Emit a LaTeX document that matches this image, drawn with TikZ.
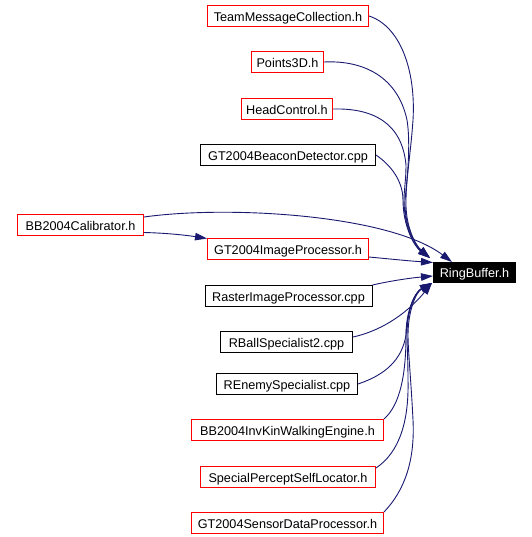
\documentclass[tikz,border=0pt]{standalone}
\usepackage{fontspec}
\setmainfont{Liberation Sans}
\usetikzlibrary{arrows.meta}
\definecolor{edgeblue}{RGB}{25,25,112}
\begin{document}
\begin{tikzpicture}[x=1bp,y=-1bp,
  filebox/.style={rectangle, line width=1bp, inner xsep=0pt, inner ysep=0pt,
    minimum height=21bp, text height=10.6pt, text depth=0pt,
    font=\fontsize{12.7}{15}\selectfont},
  redbox/.style={filebox, draw=red},
  blackbox/.style={filebox, draw=black},
  rootbox/.style={filebox, draw=black, fill=black, text=white},
  dep/.style={draw=edgeblue, line width=0.9bp,
    -{Triangle[length=12bp,width=7.5bp,fill=edgeblue]}}
]
\useasboundingbox (0,0) rectangle (532,537);

\node[redbox,   minimum width=161bp] (tmc)  at (288,16)    {TeamMessageCollection.h};
\node[redbox,   minimum width=72bp]  (p3d)  at (287.5,62)  {Points3D.h};
\node[redbox,   minimum width=91bp]  (hc)   at (287,109)   {HeadControl.h};
\node[blackbox, minimum width=175bp] (gtbd) at (288,155)   {GT2004BeaconDetector.cpp};
\node[redbox,   minimum width=126bp] (bbc)  at (80.5,225)  {BB2004Calibrator.h};
\node[redbox,   minimum width=161bp] (gtip) at (288,249)   {GT2004ImageProcessor.h};
\node[rootbox,  minimum width=82bp, minimum height=20bp] (rb) at (474.5,272.5) {RingBuffer.h};
\node[blackbox, minimum width=167bp] (rip)  at (288.5,296) {RasterImageProcessor.cpp};
\node[blackbox, minimum width=132bp] (rbs)  at (286.5,342) {RBallSpecialist2.cpp};
\node[blackbox, minimum width=141bp] (res)  at (287,384)   {REnemySpecialist.cpp};
\node[redbox,   minimum width=192bp] (bbik) at (287.5,430) {BB2004InvKinWalkingEngine.h};
\node[redbox,   minimum width=175bp] (spsl) at (288,477)   {SpecialPerceptSelfLocator.h};
\node[redbox,   minimum width=192bp] (gtsd) at (287.5,523) {GT2004SensorDataProcessor.h};

\coordinate (up) at ([xshift=-3bp,yshift=4bp]rb.north west);
\coordinate (lo) at ([xshift=-1bp]rb.south west);

% upper bundle
\draw[dep] (tmc.east) .. controls (400,26) and (416,70) .. (413,120)
  .. controls (411,150) and (406,180) .. (406,200)
  .. controls (405,225) and (415,245) .. (up);
\draw[dep] (p3d.east) .. controls (365,60) and (398,78) .. (407,120)
  .. controls (411,145) and (407,180) .. (405,200)
  .. controls (404,225) and (415,245) .. (up);
\draw[dep] (hc.east) .. controls (372,108) and (402,122) .. (406,165)
  .. controls (406,180) and (404,190) .. (404,200)
  .. controls (404,226) and (414,246) .. (up);
\draw[dep] (gtbd.east) .. controls (395,168) and (403,185) .. (403,200)
  .. controls (403,226) and (414,246) .. (up);

% BB2004Calibrator
\draw[dep] ([yshift=8bp]bbc.east) .. controls (230,205) and (390,215) .. ([xshift=19bp]rb.north west);
\draw[dep] ([yshift=-7.5bp]bbc.east) .. controls (165,233) and (185,235) .. ([yshift=-0.5bp]gtip.north west);

% middle
\draw[dep] ([yshift=-8bp]gtip.east) .. controls (390,259) and (410,261) .. ([yshift=-0.5bp]rb.north west);
\draw[dep] (rip.north east) .. controls (390,281) and (410,278) .. ([yshift=-3.5bp]rb.west);

% lower bundle
\draw[dep] ([yshift=5bp]rbs.east) .. controls (385,330) and (410,310) .. (lo);
\draw[dep] (res.east) .. controls (385,375) and (402,360) .. (406,335)
  .. controls (407,310) and (415,292) .. (lo);
\draw[dep] (bbik.north east) .. controls (400,405) and (406,375) .. (406,335)
  .. controls (406,312) and (414,293) .. (lo);
\draw[dep] ([yshift=-2bp]spsl.north east) .. controls (400,452) and (409,420) .. (408,380)
  .. controls (408,360) and (407,345) .. (407,335)
  .. controls (407,310) and (415,292) .. (lo);
\draw[dep] (gtsd.north east) .. controls (405,490) and (415,460) .. (413,420)
  .. controls (411,380) and (408,350) .. (408,335)
  .. controls (408,311) and (416,292) .. (lo);
\end{tikzpicture}
\end{document}
